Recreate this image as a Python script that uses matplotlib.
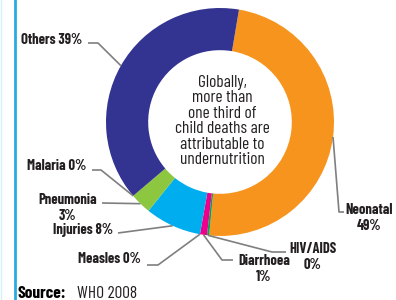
import matplotlib
matplotlib.use("Agg")
import matplotlib.pyplot as plt
import numpy as np

# causes of child deaths (WHO 2008), clockwise from the top
causes = ["Neonatal", "HIV/AIDS", "Diarrhoea", "Measles", "Injuries",
          "Pneumonia", "Malaria", "Others"]
shares = [49, 0.3, 1, 0, 8, 3, 0, 39]
colors = ["#F7941D", "#00A651", "#EC008C", "#00AEEF", "#00AEEF",
          "#8DC63F", "#8DC63F", "#333391"]

center_note = ("Globally,\nmore than\none third of\nchild deaths are\n"
               "attributable to\nundernutrition")

FONT = ["Barlow Condensed", "DejaVu Sans"]
W, H = 396, 300

fig = plt.figure(figsize=(3.96, 3.0), dpi=100)
ax = fig.add_axes([0, 0, 1, 1])

cx, cy, R = 220, H - 122, 114
wedges, _ = ax.pie(shares, colors=colors, startangle=80.4, counterclock=False,
                   center=(cx, cy), radius=R,
                   wedgeprops=dict(width=R * 0.37, linewidth=0))

ax.set_xlim(0, W)
ax.set_ylim(0, H)
ax.set_aspect("equal")
ax.axis("off")

ax.text(cx + 2, cy + 1, center_note, ha="center", va="center", fontsize=12.5,
        family=FONT, color="#231F20", linespacing=1.04)

# label placement (pixel coords from top-left): text pos, align, leader points
layout = {
    "Others":    ((82, 40), "right", [(98, 43), (88, 43)]),
    "Malaria":   ((86, 166), "right", [(101, 170), (92, 170)]),
    "Pneumonia": ((67.5, 208), "center", [(102, 203)]),
    "Injuries":  ((113, 230), "right", [(118, 233)]),
    "Measles":   ((141, 259), "right", [(158, 265), (147, 265)]),
    "Diarrhoea": ((264, 269), "center", [(222, 260), (233, 260)]),
    "HIV/AIDS":  ((312.5, 257), "center", [(272, 252), (286, 252)]),
    "Neonatal":  ((369, 218), "center", [(339, 212), (344, 212)]),
}
two_line = {"Pneumonia", "Diarrhoea", "HIV/AIDS", "Neonatal"}

for name, val, w in zip(causes, shares, wedges):
    (tx, ty), ha, pts = layout[name]
    mid = np.deg2rad((w.theta1 + w.theta2) / 2)
    xs = [cx + R * np.cos(mid)] + [p[0] for p in pts]
    ys = [cy + R * np.sin(mid)] + [H - p[1] for p in pts]
    ax.plot(xs, ys, color="#7F7F7F", lw=1.2, solid_capstyle="butt")
    sep = "\n" if name in two_line else " "
    ax.text(tx, H - ty, f"{name}{sep}{val:.0f}%", ha=ha, va="center",
            multialignment="center", fontsize=10.5, fontweight="bold",
            family=FONT, color="#231F20", linespacing=1.12)

# left rule and source line
ax.plot([15.3, 15.3], [0, H], color="#29ABE2", lw=2.0)
ax.plot([0.5, 0.5], [0, H], color="#D6F0FA", lw=1.0)
ax.text(17, H - 293, "Source:", ha="left", va="center", fontsize=12.5,
        fontweight="bold", family=FONT, color="#000000")
ax.text(77, H - 293, "WHO 2008", ha="left", va="center", fontsize=12.5,
        family=FONT, color="#231F20")

fig.savefig("out.png", dpi=100)
